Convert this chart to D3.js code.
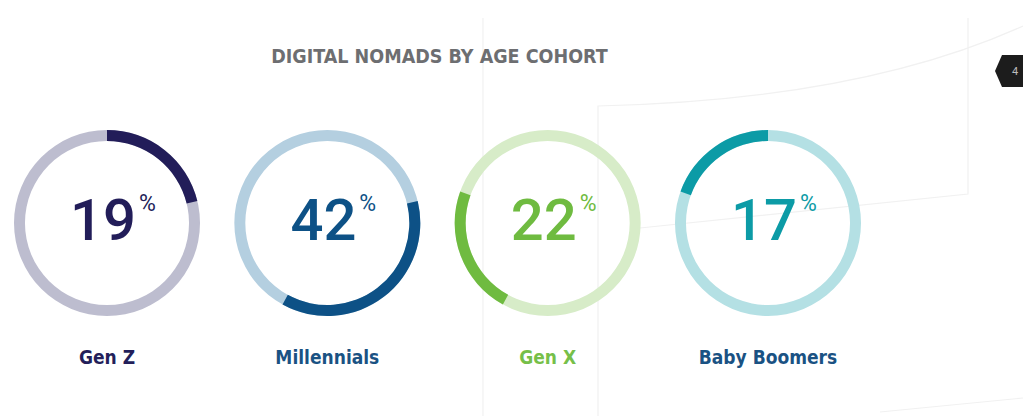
<!DOCTYPE html>
<html lang="en">
<head>
  <meta charset="UTF-8">
  <title>Digital Nomads by Age Cohort</title>
  <script src="https://d3js.org/d3.v7.min.js"></script>
  <style>
    body {
      margin: 0;
      background-color: #ffffff;
    }
    svg {
      display: block;
    }
    .title {
      font-family: "DejaVu Sans Condensed", "DejaVu Sans", sans-serif;
      font-weight: bold;
      fill: #6d6e71;
    }
    .pct {
      font-family: Roboto, "Open Sans", sans-serif;
      font-weight: 500;
    }
    .label {
      font-family: "DejaVu Sans Condensed", "DejaVu Sans", sans-serif;
      font-weight: bold;
    }
  </style>
</head>
<body>
  <svg id="chart" width="1023" height="416"></svg>

  <script>
    // cohorts and their share of digital nomads (%)
    const cohorts = ["Gen Z", "Millennials", "Gen X", "Baby Boomers"];
    const shares = [19, 42, 22, 17];
    // how much of the ring each cohort's highlighted arc covers, as drawn
    const ringShares = [21.2, 36.8, 22.5, 19.5];

    const darkColors = ["#221d59", "#0d5186", "#6fbb40", "#0c9ba6"];
    const lightColors = ["#bdbdcf", "#b4cfe0", "#d7ecc8", "#b4e0e4"];
    const labelColors = ["#231f5a", "#1a5283", "#76bf49", "#1a5283"];

    const title = "DIGITAL NOMADS BY AGE COHORT";

    const cy = 223;
    const outerR = 93, innerR = 82;

    const svg = d3.select("#chart");

    // faint background decoration
    const deco = svg.append("g")
      .attr("fill", "none")
      .attr("stroke", "#f1f1f1")
      .attr("stroke-width", 1.2);
    deco.append("path").attr("d", "M483,18 V416");
    deco.append("path").attr("d", "M598,416 V106 Q860,100 1023,26");
    deco.append("path").attr("d", "M968,18 V194 L640,228");
    deco.append("path").attr("d", "M880,412 Q960,404 1023,398");

    // page tab
    svg.append("path")
      .attr("d", "M1023,55 H1002 L995,71 L1002,87 H1023 Z")
      .attr("fill", "#1c1c1c");
    svg.append("text")
      .attr("x", 1015)
      .attr("y", 75)
      .attr("text-anchor", "middle")
      .attr("font-family", "Roboto, sans-serif")
      .attr("font-size", 11)
      .attr("fill", "#bdbdbd")
      .text("4");

    svg.append("text")
      .attr("class", "title")
      .attr("x", 439.5)
      .attr("y", 63)
      .attr("text-anchor", "middle")
      .attr("font-size", 19.5)
      .text(title);

    const x = d3.scalePoint()
      .domain(cohorts)
      .range([107, 768]);

    const arcs = d3.pie().sort(null).value(d => d)(ringShares);

    const ringArc = d3.arc()
      .innerRadius(innerR)
      .outerRadius(outerR);

    const groups = svg.selectAll(".cohort")
      .data(cohorts)
      .enter().append("g")
      .attr("class", "cohort")
      .attr("transform", d => `translate(${x(d)},${cy})`);

    // full background ring
    groups.append("path")
      .attr("d", ringArc({ startAngle: 0, endAngle: 2 * Math.PI }))
      .attr("fill", (d, i) => lightColors[i]);

    // highlighted segment
    groups.append("path")
      .attr("d", (d, i) => ringArc(arcs[i]))
      .attr("fill", (d, i) => darkColors[i]);

    const pct = groups.append("text")
      .attr("class", "pct")
      .attr("x", 6)
      .attr("y", 17)
      .attr("text-anchor", "middle")
      .attr("font-size", 58)
      .attr("fill", (d, i) => darkColors[i]);
    pct.append("tspan").text((d, i) => shares[i]);
    pct.append("tspan")
      .attr("font-size", 23)
      .attr("font-weight", 400)
      .attr("dx", 3)
      .attr("dy", -29)
      .text("%");

    groups.append("text")
      .attr("class", "label")
      .attr("x", 0)
      .attr("y", 141)
      .attr("text-anchor", "middle")
      .attr("font-size", 19)
      .attr("fill", (d, i) => labelColors[i])
      .text(d => d);
  </script>
</body>
</html>
